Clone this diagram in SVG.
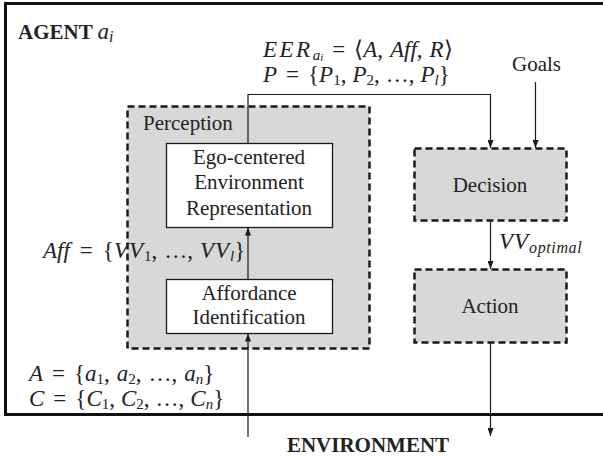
<svg xmlns="http://www.w3.org/2000/svg" width="603" height="457" viewBox="0 0 603 457">
<style>
.t{font-family:"Liberation Serif","Times New Roman",serif;font-size:21px;fill:#222}
.m{font-family:"Liberation Serif","Times New Roman",serif;font-size:23px;fill:#222}
.b{font-weight:bold}
.i{font-style:italic}
.c{text-anchor:middle}
.dash{fill:#d8d8d8;stroke:#1a1a1a;stroke-width:2.5;stroke-dasharray:7 4}
.box{fill:#fff;stroke:#1a1a1a;stroke-width:1.3}
.ln{fill:none;stroke:#1a1a1a;stroke-width:1.2}
</style>
<defs>
<marker id="ah" markerUnits="userSpaceOnUse" markerWidth="8" markerHeight="6" refX="8" refY="3" orient="auto">
<path d="M0,0 L8,3 L0,6 z" fill="#1a1a1a"/>
</marker>
</defs>
<path d="M606,3.5 H5.5 V414.5 H606" fill="none" stroke="#111" stroke-width="3"/>
<text class="t b" x="18" y="39">AGENT <tspan class="i" font-weight="normal" font-size="23">a</tspan><tspan class="i" font-weight="normal" font-size="16" dy="3">i</tspan></text>

<g id="perception">
<rect class="dash" x="127.5" y="106.5" width="242" height="242"/>
<text class="t" x="143" y="130">Perception</text>
</g>
<g id="ego">
<rect class="box" x="166.5" y="143.5" width="166" height="84"/>
<text class="t c" x="249" y="164">Ego-centered</text>
<text class="t c" x="249" y="189">Environment</text>
<text class="t c" x="249" y="215">Representation</text>
</g>
<g id="affordance">
<rect class="box" x="166.5" y="279.5" width="166" height="54"/>
<text class="t c" x="249" y="300">Affordance</text>
<text class="t c" x="249" y="324">Identification</text>
</g>
<g id="decision">
<rect class="dash" x="414.5" y="148.5" width="152" height="72"/>
<text class="t c" x="490" y="192">Decision</text>
</g>
<g id="action">
<rect class="dash" x="414.5" y="269.5" width="152" height="73"/>
<text class="t c" x="490" y="313">Action</text>
</g>

<g id="connectors">
<path class="ln" d="M248,143 V94.5 H490.5 V148" marker-end="url(#ah)"/>
<path class="ln" d="M535.5,82 V148" marker-end="url(#ah)"/>
<path class="ln" d="M248,279 V227.5" marker-end="url(#ah)"/>
<path class="ln" d="M248,437 V333.5" marker-end="url(#ah)"/>
<path class="ln" d="M490.5,221 V269" marker-end="url(#ah)"/>
<path class="ln" d="M490.5,343 V436" marker-end="url(#ah)"/>
</g>

<g id="labels">
<text class="m" x="263" y="57"><tspan class="i" letter-spacing="2.5">EER</tspan><tspan class="i" font-size="15" dy="3">a</tspan><tspan class="i" font-size="11" dy="1">i</tspan><tspan dy="-4" dx="9">=</tspan><tspan dx="9">⟨</tspan><tspan class="i">A</tspan>,<tspan class="i" dx="7">Aff</tspan>,<tspan class="i" dx="7">R</tspan>⟩</text>
<text class="m" x="263" y="82"><tspan class="i">P</tspan><tspan dx="9">=</tspan><tspan dx="9">{</tspan><tspan class="i">P</tspan><tspan font-size="15" dy="3">1</tspan><tspan dy="-3">,</tspan><tspan class="i" dx="6">P</tspan><tspan font-size="15" dy="3">2</tspan><tspan dy="-3">,</tspan><tspan dx="6">…</tspan>,<tspan class="i" dx="6">P</tspan><tspan class="i" font-size="15" dy="3">l</tspan><tspan dy="-3">}</tspan></text>
<text class="t" x="512" y="71">Goals</text>
<text class="m" x="43" y="258"><tspan class="i">Aff</tspan><tspan dx="10">=</tspan><tspan dx="10">{</tspan><tspan class="i" letter-spacing="1">VV</tspan><tspan font-size="15" dy="3">1</tspan><tspan dy="-3">,</tspan><tspan dx="7">…</tspan>,<tspan class="i" dx="7" letter-spacing="1">VV</tspan><tspan class="i" font-size="15" dy="3">l</tspan><tspan dy="-3">}</tspan></text>
<text class="m" x="499" y="249"><tspan class="i" letter-spacing="1">VV</tspan><tspan class="i" font-size="16" dy="4" letter-spacing="0.6">optimal</tspan></text>
<text class="m" x="29" y="381"><tspan class="i">A</tspan><tspan dx="9">=</tspan><tspan dx="9">{</tspan><tspan class="i">a</tspan><tspan font-size="15" dy="3">1</tspan><tspan dy="-3">,</tspan><tspan class="i" dx="7">a</tspan><tspan font-size="15" dy="3">2</tspan><tspan dy="-3">,</tspan><tspan dx="7">…</tspan>,<tspan class="i" dx="7">a</tspan><tspan class="i" font-size="15" dy="3">n</tspan><tspan dy="-3">}</tspan></text>
<text class="m" x="29" y="406"><tspan class="i">C</tspan><tspan dx="9">=</tspan><tspan dx="9">{</tspan><tspan class="i">C</tspan><tspan font-size="15" dy="3">1</tspan><tspan dy="-3">,</tspan><tspan class="i" dx="6">C</tspan><tspan font-size="15" dy="3">2</tspan><tspan dy="-3">,</tspan><tspan dx="6">…</tspan>,<tspan class="i" dx="6">C</tspan><tspan class="i" font-size="15" dy="3">n</tspan><tspan dy="-3">}</tspan></text>
<text class="t b c" x="368" y="452">ENVIRONMENT</text>
</g>
</svg>
